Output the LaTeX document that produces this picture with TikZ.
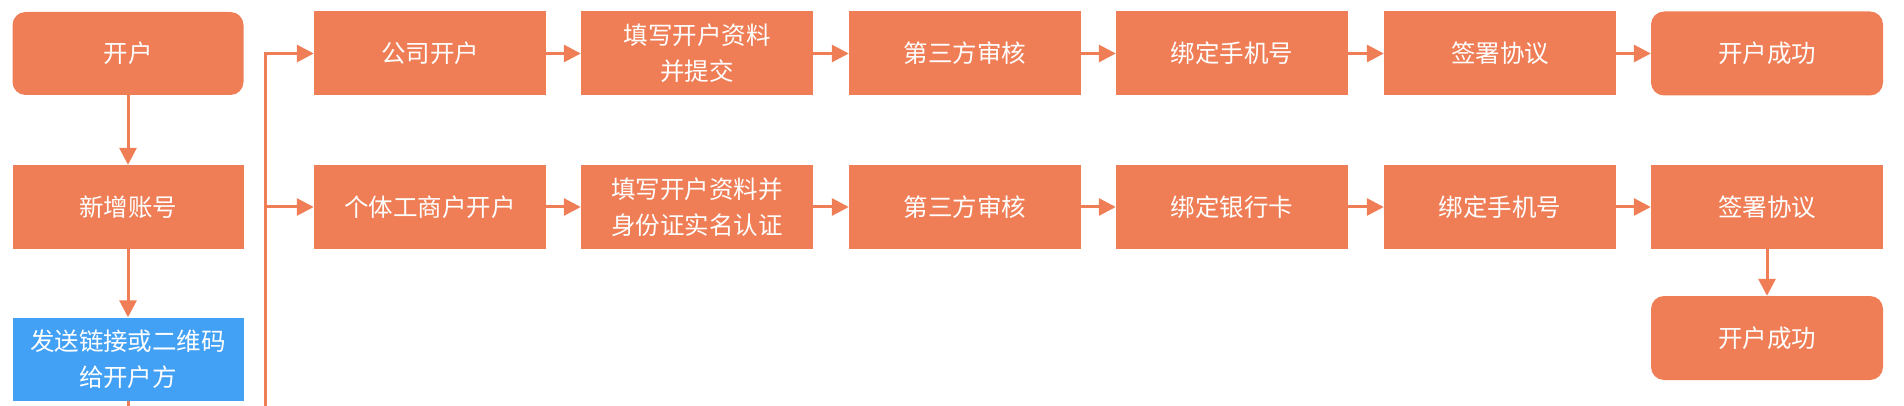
\documentclass[tikz,border=0pt]{standalone}
\usepackage{fontspec}
\setmainfont{Noto Sans CJK SC}
\usetikzlibrary{arrows.meta}
\definecolor{boxorange}{RGB}{239,126,86}
\definecolor{boxblue}{RGB}{67,161,245}
\tikzset{
    flowbox/.style={rectangle,fill=boxorange,text=white,minimum width=232pt,minimum height=84pt,inner sep=0pt,align=center,font=\fontsize{24.5}{36}\selectfont},
    endbox/.style={flowbox,rounded corners=13pt},
    sendbox/.style={flowbox,fill=boxblue},
    flow/.style={draw=boxorange,line width=3pt,-{Triangle[length=17pt,width=17pt]}},
    plain/.style={draw=boxorange,line width=3pt}
}
\begin{document}
\begin{tikzpicture}[x=1pt,y=1pt]
        \useasboundingbox(0,0)rectangle(1904,-406);
        \node(kaihu)at(128,-53.5)[endbox,minimum width=231pt,minimum height=83pt]{开户};
        \node(xinzeng)at(128,-207)[flowbox,minimum width=231pt]{新增账号};
        \node(fasong)at(128,-359)[sendbox,minimum width=231pt,minimum height=83pt]{发送链接或二维码\\给开户方};
        \coordinate(fasongend)at(128,-406);
        \coordinate(branch)at(265,-406);
        \node(gongsi)at(430,-53.5)[flowbox]{公司开户};
        \node(gongsiziliao)at(697,-53.5)[flowbox]{填写开户资料\\并提交};
        \node(gongsishenhe)at(965,-53.5)[flowbox]{第三方审核};
        \node(gongsishouji)at(1232,-53.5)[flowbox]{绑定手机号};
        \node(gongsixieyi)at(1500,-53.5)[flowbox]{签署协议};
        \node(gongsichenggong)at(1767,-53.5)[endbox]{开户成功};
        \node(geti)at(430,-207)[flowbox]{个体工商户开户};
        \node(getiziliao)at(697,-207)[flowbox]{填写开户资料并\\身份证实名认证};
        \node(getishenhe)at(965,-207)[flowbox]{第三方审核};
        \node(getiyinhang)at(1232,-207)[flowbox]{绑定银行卡};
        \node(getishouji)at(1500,-207)[flowbox]{绑定手机号};
        \node(getixieyi)at(1767,-207)[flowbox]{签署协议};
        \node(getichenggong)at(1767,-338)[endbox]{开户成功};
        \draw[flow](kaihu)--(xinzeng);
        \draw[flow](xinzeng)--(fasong);
        \draw[plain](fasong)--(fasongend);
        \draw[flow](branch)|-(gongsi);
        \draw[flow](branch)|-(geti);
        \draw[flow](gongsi)--(gongsiziliao);
        \draw[flow](gongsiziliao)--(gongsishenhe);
        \draw[flow](gongsishenhe)--(gongsishouji);
        \draw[flow](gongsishouji)--(gongsixieyi);
        \draw[flow](gongsixieyi)--(gongsichenggong);
        \draw[flow](geti)--(getiziliao);
        \draw[flow](getiziliao)--(getishenhe);
        \draw[flow](getishenhe)--(getiyinhang);
        \draw[flow](getiyinhang)--(getishouji);
        \draw[flow](getishouji)--(getixieyi);
        \draw[flow](getixieyi)--(getichenggong);
    \end{tikzpicture}
\end{document}
